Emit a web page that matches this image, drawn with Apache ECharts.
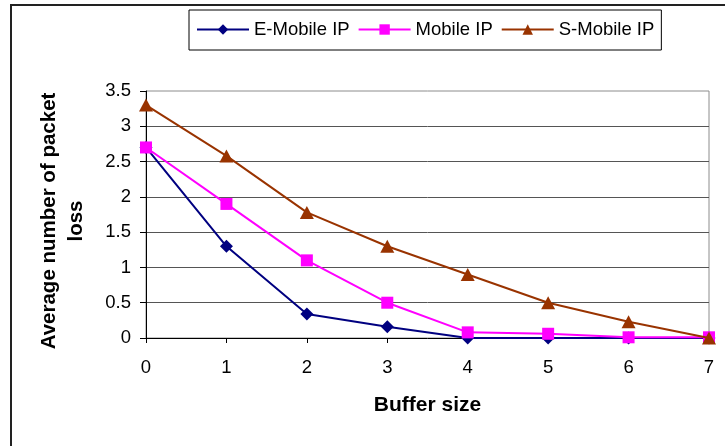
<!DOCTYPE html>
<html>
<head>
<meta charset="utf-8">
<script src="https://cdn.jsdelivr.net/npm/echarts@6/dist/echarts.min.js"></script>
<style>
  html, body { margin: 0; padding: 0; background: #ffffff; }
  #chart { width: 725px; height: 446px; }
</style>
</head>
<body>
<div id="chart"></div>
<script>
// Buffer sizes on the x axis
const bufferSizes = [0, 1, 2, 3, 4, 5, 6, 7];

// Average packet loss per protocol variant
const eMobileIP = [2.7, 1.3, 0.34, 0.16, 0, 0, 0, 0];
const mobileIP  = [2.7, 1.9, 1.1, 0.5, 0.08, 0.06, 0.01, 0.01];
const sMobileIP = [3.3, 2.58, 1.78, 1.3, 0.9, 0.5, 0.23, 0];

const seriesNames = ['E-Mobile IP', 'Mobile IP', 'S-Mobile IP'];

const pairs = (ys) => bufferSizes.map((x, i) => [x, ys[i]]);

const FONT = '"Liberation Sans", Arial, sans-serif';

const chart = echarts.init(document.getElementById('chart'), null, { renderer: 'canvas' });

chart.setOption({
  backgroundColor: '#ffffff',
  animation: false,
  textStyle: { fontFamily: FONT, color: '#000' },
  graphic: [
    {
      type: 'rect',
      shape: { x: 11, y: 5, width: 900, height: 900 },
      style: { fill: null, stroke: '#222', lineWidth: 2 },
      silent: true,
      z: 0
    }
  ],
  legend: {
    left: 189,
    top: 10,
    padding: [10, 7, 11, 7],
    borderColor: '#000',
    borderWidth: 1,
    itemWidth: 52,
    itemHeight: 13,
    itemGap: 8,
    textStyle: { fontFamily: FONT, fontSize: 18.5, color: '#000' },
    data: seriesNames
  },
  grid: {
    left: 146,
    right: 16,
    top: 91,
    bottom: 108,
    show: true,
    borderColor: '#8c8c8c',
    borderWidth: 1,
    backgroundColor: 'transparent'
  },
  xAxis: {
    type: 'value',
    min: 0,
    max: 7,
    interval: 1,
    name: 'Buffer size',
    nameLocation: 'middle',
    nameGap: 57,
    nameTextStyle: { fontFamily: FONT, fontSize: 21, fontWeight: 'bold', color: '#000' },
    axisLine: { show: true, lineStyle: { color: '#000', width: 1 } },
    axisTick: { show: true, inside: false, length: 5, lineStyle: { color: '#000' } },
    axisLabel: { fontFamily: FONT, fontSize: 18.5, color: '#000', margin: 20 },
    splitLine: { show: false }
  },
  yAxis: {
    type: 'value',
    min: 0,
    max: 3.5,
    interval: 0.5,
    name: 'Average number of packet\nloss',
    nameLocation: 'middle',
    nameRotate: 90,
    nameGap: 56,
    nameTextStyle: {
      fontFamily: FONT, fontSize: 20.5, fontWeight: 'bold', color: '#000',
      lineHeight: 27, align: 'center', padding: [0, 13, 0, 0]
    },
    axisLine: { show: true, onZero: false, lineStyle: { color: '#000', width: 1 } },
    axisTick: { show: true, inside: false, length: 6, lineStyle: { color: '#000' } },
    axisLabel: { fontFamily: FONT, fontSize: 18.5, color: '#000', margin: 15,
      formatter: (v) => String(v) },
    splitLine: { show: true, showMinLine: false, showMaxLine: false,
      lineStyle: { color: '#555', width: 1 } }
  },
  series: [
    {
      name: seriesNames[0],
      type: 'line',
      data: pairs(eMobileIP),
      symbol: 'diamond',
      symbolSize: 13,
      color: '#000080',
      lineStyle: { color: '#000080', width: 2 },
      itemStyle: { color: '#000080' },
      z: 3
    },
    {
      name: seriesNames[1],
      type: 'line',
      data: pairs(mobileIP),
      symbol: 'rect',
      symbolSize: 12,
      color: '#ff00ff',
      lineStyle: { color: '#ff00ff', width: 2 },
      itemStyle: { color: '#ff00ff' },
      z: 4
    },
    {
      name: seriesNames[2],
      type: 'line',
      data: pairs(sMobileIP),
      symbol: 'triangle',
      symbolSize: [14, 13],
      color: '#993300',
      lineStyle: { color: '#993300', width: 2 },
      itemStyle: { color: '#993300' },
      z: 5
    }
  ]
});
</script>
</body>
</html>
